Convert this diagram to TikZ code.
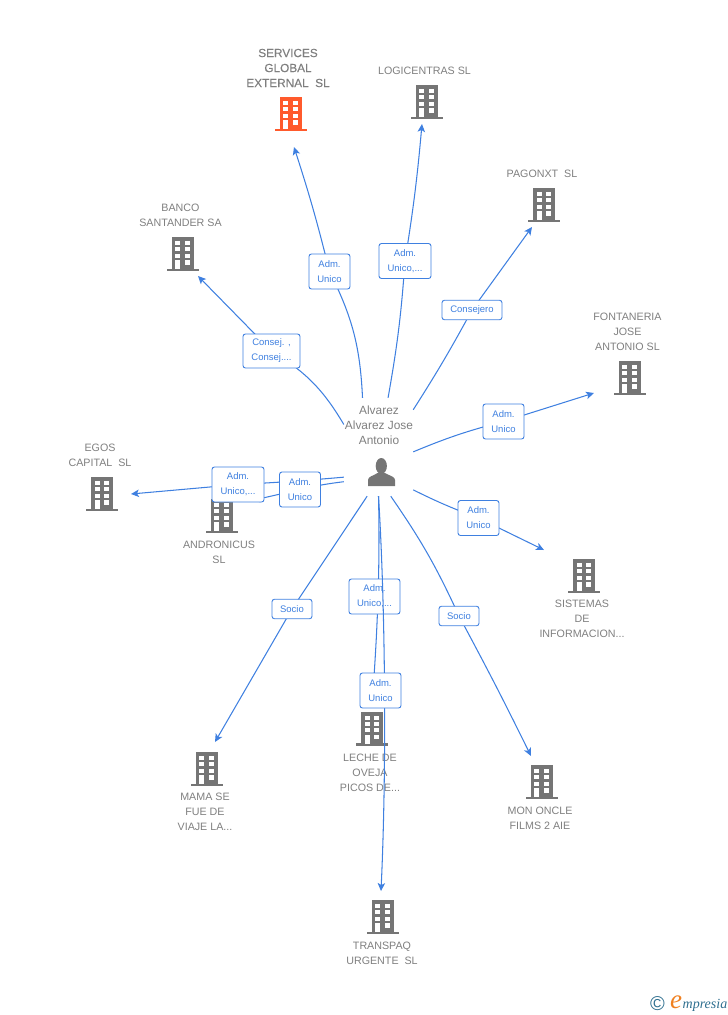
\documentclass[tikz,border=0pt]{standalone}
\usepackage{fontspec}
\setmainfont{Liberation Sans}
\newfontfamily\fakebold[FakeBold=0.2]{Liberation Sans}
\newfontfamily\logofont{Liberation Serif}
\usetikzlibrary{arrows.meta}
\definecolor{edgeblue}{HTML}{3F80E0}
\definecolor{labelgray}{HTML}{7F7F7F}
\definecolor{icongray}{HTML}{757575}
\definecolor{iconred}{HTML}{FF5A2C}
\definecolor{logoteal}{HTML}{2F6F8F}
\definecolor{logoorange}{HTML}{F08020}
\tikzset{
  x=1pt,y=-1pt,
  link/.style={draw=edgeblue,line width=1.05pt},
  tip/.style={-{Stealth[length=8pt,width=7.5pt,inset=2pt]}},
  tag/.style={draw=edgeblue,line width=0.9pt,rounded corners=2.5pt,fill=white,text=edgeblue,
    font=\fontsize{9.5}{15}\selectfont,align=center,inner sep=0pt,minimum height=35pt},
  tagone/.style={tag,minimum height=19.5pt},
  name text/.style={text=labelgray,font=\fontsize{10.7}{15}\selectfont,align=center,inner sep=0pt},
  pics/bldg/.style={code={
    \fill[#1] (-11,-34) rectangle (11,-2);
    \fill[#1] (-16,-2.2) rectangle (16,0);
    \foreach \yy in {-30,-24,-17.5}{
      \fill[white] (-7.3,\yy) rectangle (-2.3,\yy+4.3);
      \fill[white] (2.3,\yy) rectangle (7.3,\yy+4.3);
    }
    \fill[white] (2.3,-11) rectangle (7.3,-6.5);
    \fill[white] (-7.3,-11) rectangle (-2.3,-2);
  }}
}
\begin{document}
\begin{tikzpicture}
\useasboundingbox (0,0) rectangle (728,1015);
% buildings
\path (290.5,131) pic {bldg=iconred};
\path (426.5,119) pic {bldg=icongray};
\path (182.5,271) pic {bldg=icongray};
\path (544,222) pic {bldg=icongray};
\path (629.5,395) pic {bldg=icongray};
\path (102,511) pic {bldg=icongray};
\path (221.5,533) pic {bldg=icongray};
\path (584,593) pic {bldg=icongray};
\path (206.5,786) pic {bldg=icongray};
\path (372,745.5) pic {bldg=icongray};
\path (541.5,799) pic {bldg=icongray};
\path (382.5,934) pic {bldg=icongray};
% building names
\node[name text,font=\fontsize{11.8}{15}\fakebold] (nSvc) at (288,68) {SERVICES\\GLOBAL\\EXTERNAL\ \ SL};
\node[name text] (nLog) at (424.5,71) {LOGICENTRAS SL};
\node[name text] (nBan) at (180.5,215.5) {BANCO\\SANTANDER SA};
\node[name text] (nPag) at (542,174) {PAGONXT\ \ SL};
\node[name text] (nFon) at (627.5,332) {FONTANERIA\\JOSE\\ANTONIO SL};
\node[name text] (nEgo) at (100,455.5) {EGOS\\CAPITAL\ \ SL};
\node[name text] (nAnd) at (219,552.5) {ANDRONICUS\\SL};
\node[name text] (nSis) at (582,619) {SISTEMAS\\DE\\INFORMACION...};
\node[name text] (nMam) at (205,812) {MAMA SE\\FUE DE\\VIAJE LA...};
\node[name text] (nLec) at (370,773) {LECHE DE\\OVEJA\\PICOS DE...};
\node[name text] (nMon) at (540,818.5) {MON ONCLE\\FILMS 2 AIE};
\node[name text] (nTra) at (382,953.5) {TRANSPAQ\\URGENTE\ \ SL};
% central person
\node[name text,font=\fontsize{11.9}{15}\selectfont] (nHub) at (379,425) {Alvarez\\Alvarez Jose\\Antonio};
\node[minimum width=69pt,minimum height=98pt,inner sep=0pt] (hub) at (378.5,447) {};
\fill[icongray] (381.3,466) ellipse (5.6 and 8);
\fill[icongray] (368,486) -- (368,480) .. controls (368,476.5) and (373,476) .. (377.5,473)
  -- (385,473) .. controls (390,476) and (395,476.5) .. (395,480) -- (395,486) -- cycle;
% arrow ends
\coordinate (tSvc) at (294,147);
\coordinate (tLog) at (422,124);
\coordinate (tBan) at (198,276);
\coordinate (tPag) at (532,227);
\coordinate (tFon) at (594,393);
\coordinate (tEgo) at (131,494);
\coordinate (tAnd) at (252,500.5);
\coordinate (tSis) at (544,550);
\coordinate (tMam) at (215,742);
\coordinate (tLec) at (372,704);
\coordinate (tMon) at (531,756);
\coordinate (tTra) at (381,891);
% connectors under the tags
\draw[link] (hub.108.6) to[bend right=12] (329.5,271.5);
\draw[link,tip] (329.5,271.5) to[bend right=2] (tSvc);
\draw[link] (hub.79.7) to[bend right=3] (405,261);
\draw[link,tip] (405,261) to[bend right=2] (tLog);
\draw[link] (hub.147.5) to[bend right=14] (271.5,351);
\draw[link,tip] (271.5,351) -- (tBan);
\draw[link] (hub.47.8) to[bend right=2] (472,310);
\draw[link,tip] (472,310) -- (tPag);
\draw[link] (hub.-8.3) to[bend left=4] (503.5,421.5);
\draw[link,tip] (503.5,421.5) -- (tFon);
\draw[link] (hub.-51.3) to[bend right=3] (478.5,518);
\draw[link,tip] (478.5,518) -- (tSis);
\draw[link] (hub.-76.3) to[bend left=5] (459,616);
\draw[link,tip] (459,616) to[bend left=1] (tMon);
\draw[link] (hub.-103.7) -- (292,609);
\draw[link,tip] (292,609) -- (tMam);
\draw[link] (hub.221) to[bend left=1] (238,484.5);
\draw[link,tip] (238,484.5) -- (tEgo);
\draw[link] (hub.225.4) to[bend right=3] (300,489.5);
\draw[link,tip] (300,489.5) -- (tAnd);
\draw[link,tip] (hub.-90) .. controls (380,560) and (378,625) .. (tLec);
% tags
\node[tag,minimum width=41pt] (aSvc) at (329.5,271.5) {Adm.\\Unico};
\node[tag,minimum width=52pt] (aLog) at (405,261) {Adm.\\Unico,...};
\node[tag,minimum width=57pt,minimum height=34pt] (aBan) at (271.5,351) {Consej. ,\\Consej....};
\node[tagone,minimum width=60pt] (aPag) at (472,310) {Consejero};
\node[tag,minimum width=41pt] (aFon) at (503.5,421.5) {Adm.\\Unico};
\node[tag,minimum width=41pt] (aSis) at (478.5,518) {Adm.\\Unico};
\node[tag,minimum width=52pt] (aEgo) at (238,484.5) {Adm.\\Unico,...};
\node[tag,minimum width=41pt] (aAnd) at (300,489.5) {Adm.\\Unico};
\node[tagone,minimum width=40pt] (aMam) at (292,609) {Socio};
\node[tagone,minimum width=40pt] (aMon) at (459,616) {Socio};
\node[tag,minimum width=51pt] (aLec) at (374.5,596.5) {Adm.\\Unico,...};
% this connector runs over the tag above it and under the tag below it
\draw[link,tip] (hub.-90) .. controls (385,600) and (387,760) .. (tTra);
\node[tag,minimum width=41pt] (aTra) at (380.5,690.5) {Adm.\\Unico};
% logo
\node[inner sep=0pt,text=logoteal,font=\fontsize{20}{20}\selectfont] (lC) at (657.5,1004) {©};
\node[inner sep=0pt,text=logoorange,font=\fontsize{27}{27}\logofont\itshape] (lE) at (676,1002) {e};
\node[inner sep=0pt,text=logoteal,anchor=base west,font=\fontsize{14}{14}\logofont\itshape] (lM) at (682.5,1008.5) {mpresia};
\end{tikzpicture}
\end{document}
